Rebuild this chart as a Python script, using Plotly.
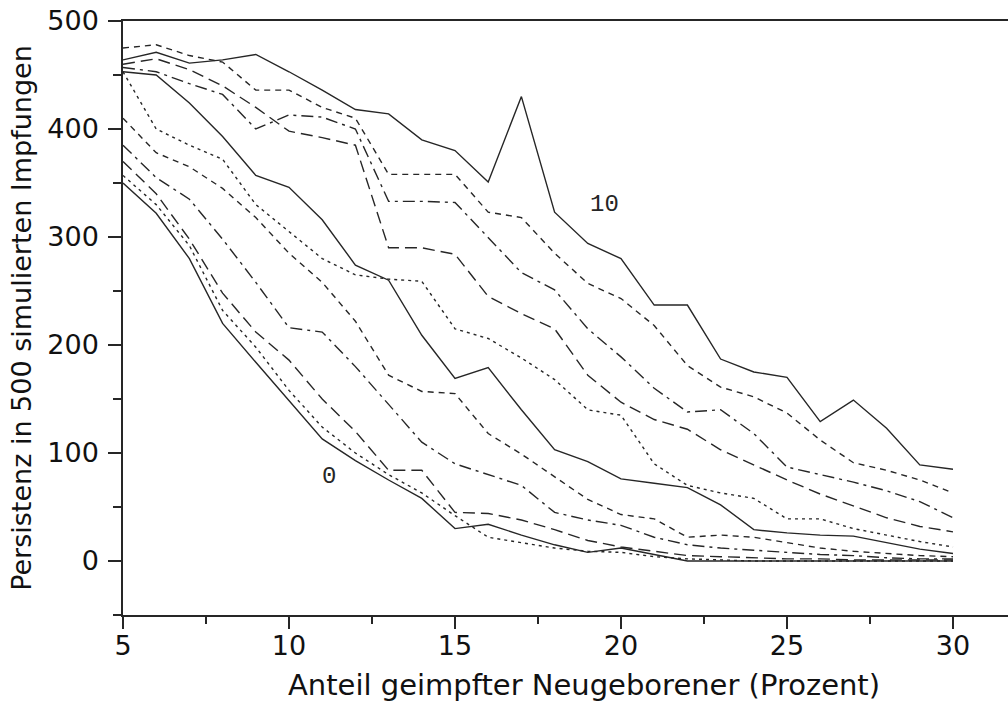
import plotly.graph_objects as go

# Vaccination share of newborns (percent)
anteil = list(range(5, 31))

# Persistence counts out of 500 simulated vaccinations, one series per scenario 0..10
s0 = [350, 322, 280, 220, 184, 148, 113, 93, 75, 58, 30, 34, 24, 15, 8, 12, 6, 0, 0, 0, 0, 0, 0, 0, 0, 0]
s1 = [357, 330, 292, 232, 198, 158, 124, 100, 80, 63, 42, 22, 17, 12, 9, 8, 4, 2, 1, 0, 0, 0, 0, 0, 0, 0]
s2 = [370, 340, 298, 248, 212, 186, 150, 120, 84, 84, 45, 44, 38, 29, 19, 13, 9, 5, 4, 3, 2, 2, 1, 1, 1, 1]
s3 = [385, 355, 335, 298, 258, 216, 212, 180, 145, 110, 90, 80, 70, 45, 38, 33, 22, 15, 12, 10, 8, 6, 5, 3, 2, 2]
s4 = [410, 378, 365, 345, 318, 285, 258, 222, 172, 157, 155, 118, 99, 78, 57, 43, 39, 22, 24, 22, 17, 12, 9, 7, 5, 4]
s5 = [453, 450, 424, 393, 357, 346, 316, 274, 260, 209, 169, 179, 140, 103, 92, 76, 72, 68, 52, 29, 26, 24, 23, 17, 11, 7]
s6 = [453, 400, 385, 372, 330, 305, 280, 265, 261, 259, 215, 206, 188, 168, 140, 135, 90, 70, 63, 58, 39, 39, 30, 24, 18, 13]
s7 = [460, 465, 455, 440, 420, 398, 392, 385, 290, 290, 284, 245, 229, 215, 172, 147, 131, 122, 103, 89, 75, 62, 51, 40, 32, 27]
s8 = [457, 453, 442, 432, 400, 413, 411, 400, 333, 333, 332, 300, 267, 251, 215, 189, 160, 138, 140, 118, 87, 80, 73, 65, 55, 40]
s9 = [475, 478, 468, 462, 436, 436, 420, 410, 358, 358, 358, 323, 318, 285, 257, 243, 218, 181, 161, 152, 137, 112, 91, 84, 75, 63]
s10 = [464, 471, 461, 464, 469, 453, 436, 418, 414, 390, 380, 351, 430, 323, 294, 280, 237, 237, 187, 175, 170, 129, 149, 123, 89, 85]

serien = [s0, s1, s2, s3, s4, s5, s6, s7, s8, s9, s10]
x_ticks = [5, 10, 15, 20, 25, 30]
y_ticks = [0, 100, 200, 300, 400, 500]

# line patterns repeat every five scenarios
muster = ["solid", "3px,4px", "12px,6px", "12px,5px,3px,5px", "6px,5px"]

ink = "#262626"
fig = go.Figure()
for i, werte in enumerate(serien):
    fig.add_trace(go.Scatter(
        x=anteil, y=werte, mode="lines", name=str(i),
        line=dict(color=ink, width=1.4, dash=muster[i % 5]),
        showlegend=False, hoverinfo="skip",
    ))

anno_font = dict(family="Liberation Mono", size=24, color=ink)
fig.add_annotation(x=19.5, y=330, text="10", showarrow=False, font=anno_font)
fig.add_annotation(x=11.2, y=78, text="0", showarrow=False, font=anno_font)

tick_font = dict(family="DejaVu Sans", size=27, color="#111")
title_font = dict(family="DejaVu Sans", size=27, color="#111")

# x-axis title placed as paper annotation
fig.add_annotation(
    xref="paper", yref="paper", x=0.521, y=-0.118, xanchor="center", yanchor="middle",
    text="Anteil geimpfter Neugeborener (Prozent)", showarrow=False,
    font=dict(family="DejaVu Sans", size=29, color="#111"),
)

fig.update_layout(
    width=1008, height=704,
    margin=dict(l=123, r=0, t=21, b=89),
    paper_bgcolor="white", plot_bgcolor="white",
    xaxis=dict(
        range=[5, 5 + (1008 - 123) / 33.2], tickmode="array", tickvals=x_ticks,
        ticks="outside", ticklen=12, tickwidth=1.5, tickcolor=ink,
        minor=dict(dtick=2.5, tick0=5, ticks="outside", ticklen=7, tickwidth=1.5, tickcolor=ink),
        showline=True, linecolor=ink, linewidth=2, mirror=True,
        showgrid=False, zeroline=False, tickfont=tick_font, ticklabelstandoff=-6,
    ),
    yaxis=dict(
        range=[-50, 500], tickmode="array", tickvals=y_ticks,
        ticks="outside", ticklen=13, tickwidth=1.5, tickcolor=ink,
        minor=dict(dtick=50, tick0=0, ticks="outside", ticklen=8, tickwidth=1.5, tickcolor=ink),
        showline=True, linecolor=ink, linewidth=1.5,
        showgrid=False, zeroline=False, tickfont=tick_font, ticklabelstandoff=4,
        title=dict(text="Persistenz in 500 simulierten Impfungen", font=title_font, standoff=8),
    ),
)

fig.write_html("out.html")
